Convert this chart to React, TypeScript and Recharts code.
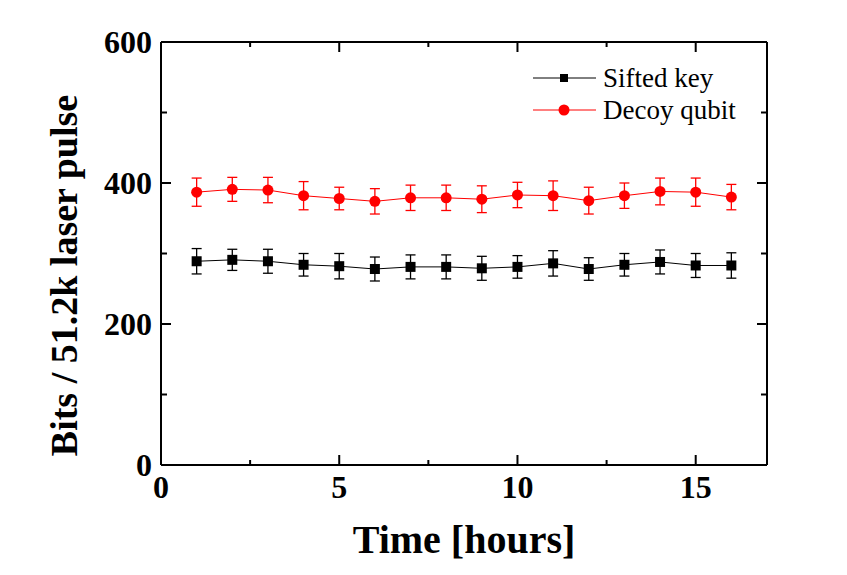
import { LineChart, Line, XAxis, YAxis, ErrorBar, Legend, Label } from "recharts";

const hours = [1, 2, 3, 4, 5, 6, 7, 8, 9, 10, 11, 12, 13, 14, 15, 16];
const siftedKey = [289, 291, 289, 284, 282, 278, 281, 281, 279, 281, 286, 278, 284, 288, 283, 283];
const siftedErr = [18, 15, 17, 16, 18, 17, 17, 17, 17, 16, 18, 16, 16, 17, 17, 18];
const decoyQubit = [387, 391, 390, 382, 378, 374, 379, 379, 377, 383, 382, 375, 382, 388, 387, 380];
const decoyErr = [20, 17, 18, 20, 16, 18, 18, 18, 19, 18, 21, 19, 18, 19, 20, 18];

const seriesNames = ["Sifted key", "Decoy qubit"];
const xTicks = [0, 2.5, 5, 7.5, 10, 12.5, 15];
const yTicks = [0, 100, 200, 300, 400, 500, 600];

const data = hours.map((t, i) => ({
  t,
  sifted: siftedKey[i],
  siftedErr: siftedErr[i],
  decoy: decoyQubit[i],
  decoyErr: decoyErr[i],
}));

const FONT = "'Liberation Serif', 'Times New Roman', serif";

const makeXTick = (top: boolean) => (props: any) => {
  const { x, y, payload } = props;
  const v = payload.value;
  const major = v % 5 === 0;
  const len = major ? 10 : 5;
  const dir = top ? 1 : -1;
  return (
    <g>
      <line x1={x} y1={y} x2={x} y2={y + dir * len} stroke="#000" strokeWidth={2} />
      {major && !top && (
        <text x={x} y={y + 33} textAnchor="middle" fontFamily={FONT} fontWeight="bold" fontSize={32} fill="#000">
          {v}
        </text>
      )}
    </g>
  );
};

const makeYTick = (right: boolean) => (props: any) => {
  const { x, y, payload } = props;
  const v = payload.value;
  const major = v % 200 === 0;
  const len = major ? 10 : 6;
  const dir = right ? -1 : 1;
  return (
    <g>
      <line x1={x} y1={y} x2={x + dir * len} y2={y} stroke="#000" strokeWidth={2} />
      {major && !right && (
        <text x={x - 9} y={y + 11} textAnchor="end" fontFamily={FONT} fontWeight="bold" fontSize={32} fill="#000">
          {v}
        </text>
      )}
    </g>
  );
};

const Square = (props: any) => {
  const { cx, cy, index } = props;
  if (cx == null || cy == null) return <g key={index} />;
  return <rect key={index} x={cx - 5} y={cy - 5} width={10} height={10} fill="#000" />;
};

const Circle = (props: any) => {
  const { cx, cy, index } = props;
  if (cx == null || cy == null) return <g key={index} />;
  return <circle key={index} cx={cx} cy={cy} r={5.5} fill="#ff0000" />;
};

const renderLegend = (props: any) => {
  const items = [...(props.payload || [])].sort(
    (a: any, b: any) => seriesNames.indexOf(a.value) - seriesNames.indexOf(b.value)
  );
  return (
    <div style={{ fontFamily: FONT, fontSize: 27, color: "#000" }}>
      {items.map((it: any) => {
        const c = it.color;
        return (
          <div key={it.value} style={{ display: "flex", alignItems: "center", height: 32 }}>
            <svg width={64} height={16} style={{ display: "block" }}>
              <line x1={0} y1={8} x2={63} y2={8} stroke={c} strokeWidth={1} />
              {c === "#000" ? (
                <rect x={27} y={4} width={8} height={8} fill={c} />
              ) : (
                <circle cx={31} cy={8} r={5.5} fill={c} />
              )}
            </svg>
            <span style={{ marginLeft: 6, lineHeight: "32px" }}>{it.value}</span>
          </div>
        );
      })}
    </div>
  );
};

const YTitle = (props: any) => {
  const { viewBox } = props;
  const cy = viewBox.y + viewBox.height / 2 + 22;
  return (
    <text
      x={77}
      y={cy}
      transform={`rotate(-90 77 ${cy})`}
      textAnchor="middle"
      fontFamily={FONT}
      fontWeight="bold"
      fontSize={38}
      fill="#000"
    >
      Bits / 51.2k laser pulse
    </text>
  );
};

const XTitle = (props: any) => {
  const { viewBox } = props;
  const cx = viewBox.x + viewBox.width / 2;
  return (
    <text x={cx} y={553} textAnchor="middle" fontFamily={FONT} fontWeight="bold" fontSize={40} fill="#000">
      Time [hours]
    </text>
  );
};

export default function App() {
  return (
    <div style={{ position: "absolute", left: 0, top: 0, width: 847, height: 575, background: "#fff" }}>
      <LineChart width={847} height={575} data={data} margin={{ top: 41, right: 79, bottom: 0, left: 0 }}>
        <XAxis
          dataKey="t"
          type="number"
          domain={[0, 17]}
          ticks={xTicks}
          allowDataOverflow
          height={110}
          tickSize={0}
          tickMargin={0}
          tickLine={false}
          axisLine={{ stroke: "#000", strokeWidth: 2 }}
          tick={makeXTick(false)}
        >
          <Label content={XTitle} />
        </XAxis>
        <XAxis
          xAxisId="top"
          orientation="top"
          dataKey="t"
          type="number"
          domain={[0, 17]}
          ticks={xTicks}
          allowDataOverflow
          height={1}
          tickSize={0}
          tickMargin={0}
          tickLine={false}
          axisLine={{ stroke: "#000", strokeWidth: 2 }}
          tick={makeXTick(true)}
        />
        <YAxis
          type="number"
          domain={[0, 600]}
          ticks={yTicks}
          allowDataOverflow
          width={161}
          tickSize={0}
          tickMargin={0}
          tickLine={false}
          axisLine={{ stroke: "#000", strokeWidth: 2 }}
          tick={makeYTick(false)}
        >
          <Label content={YTitle} />
        </YAxis>
        <YAxis
          yAxisId="right"
          orientation="right"
          type="number"
          domain={[0, 600]}
          ticks={yTicks}
          allowDataOverflow
          width={1}
          tickSize={0}
          tickMargin={0}
          tickLine={false}
          axisLine={{ stroke: "#000", strokeWidth: 2 }}
          tick={makeYTick(true)}
        />
        <Legend
          verticalAlign="middle"
          align="center"
          layout="vertical"
          content={renderLegend}
          wrapperStyle={{ position: "absolute", left: 533, top: 62, width: "auto" }}
        />
        <Line
          dataKey="sifted"
          name="Sifted key"
          stroke="#000"
          strokeWidth={1}
          dot={Square}
          activeDot={false}
          isAnimationActive={false}
        >
          <ErrorBar dataKey="siftedErr" width={5} stroke="#000" strokeWidth={1.3} />
        </Line>
        <Line
          dataKey="decoy"
          name="Decoy qubit"
          stroke="#ff0000"
          strokeWidth={1}
          dot={Circle}
          activeDot={false}
          isAnimationActive={false}
        >
          <ErrorBar dataKey="decoyErr" width={5} stroke="#ff0000" strokeWidth={1.3} />
        </Line>
      </LineChart>
    </div>
  );
}
